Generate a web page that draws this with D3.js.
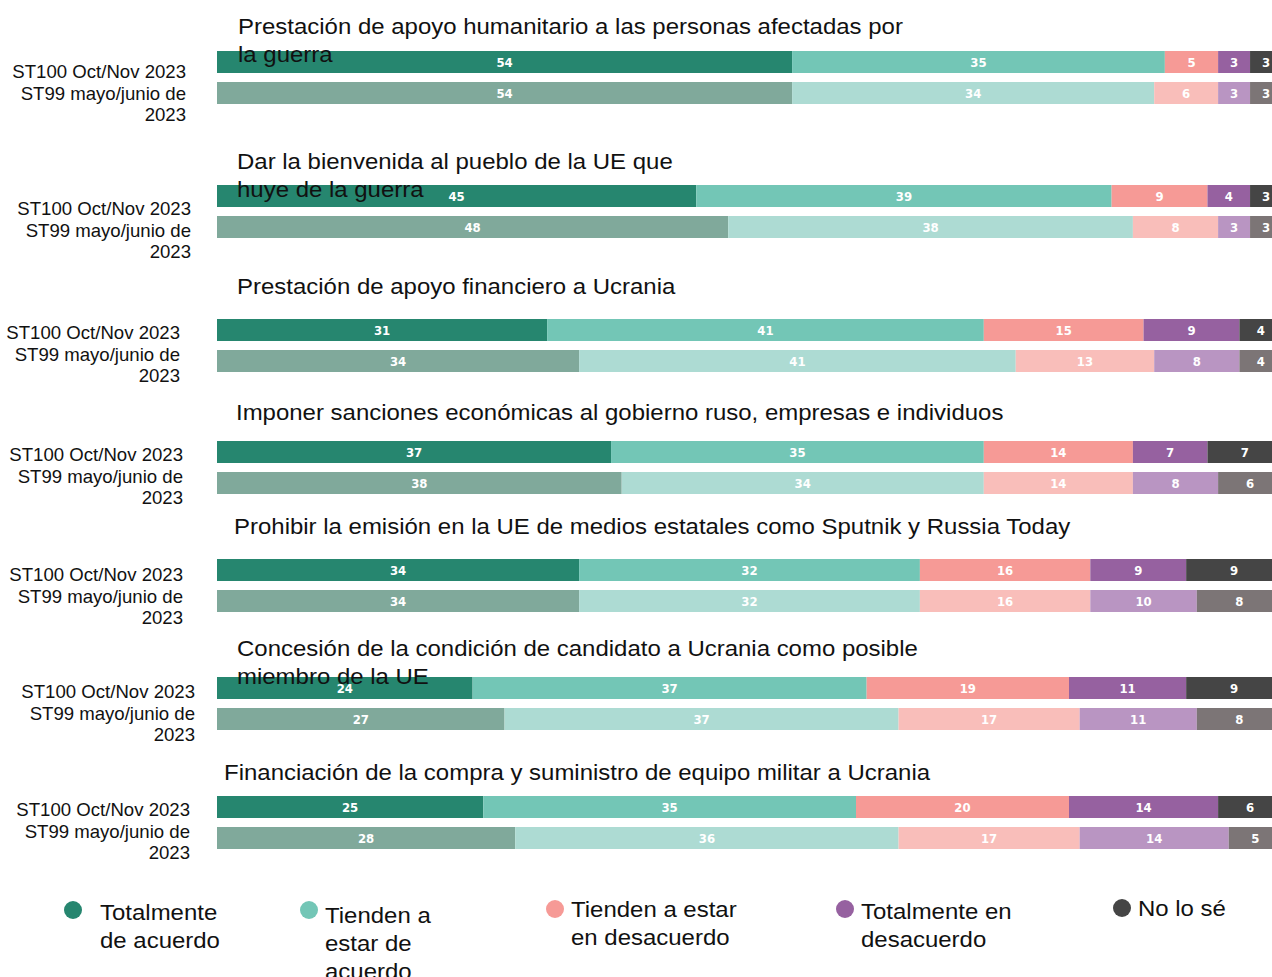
<!DOCTYPE html>
<html>
<head>
<meta charset="utf-8">
<script src="https://cdn.jsdelivr.net/npm/d3@7"></script>
<style>
  body { margin: 0; background: #fff; }
  svg { display: block; }
</style>
</head>
<body>
<div id="chart"></div>
<script>
// ---- data ----
var questions = [
  ["Prestación de apoyo humanitario a las personas afectadas por", "la guerra"],
  ["Dar la bienvenida al pueblo de la UE que", "huye de la guerra"],
  ["Prestación de apoyo financiero a Ucrania"],
  ["Imponer sanciones económicas al gobierno ruso, empresas e individuos"],
  ["Prohibir la emisión en la UE de medios estatales como Sputnik y Russia Today"],
  ["Concesión de la condición de candidato a Ucrania como posible", "miembro de la UE"],
  ["Financiación de la compra y suministro de equipo militar a Ucrania"]
];
var waveLabels = ["ST100 Oct/Nov 2023", "ST99 mayo/junio de", "2023"];
var categories = ["Totalmente de acuerdo", "Tienden a estar de acuerdo",
  "Tienden a estar en desacuerdo", "Totalmente en desacuerdo", "No lo sé"];
var legendLines = [
  ["Totalmente", "de acuerdo"],
  ["Tienden a", "estar de", "acuerdo"],
  ["Tienden a estar", "en desacuerdo"],
  ["Totalmente en", "desacuerdo"],
  ["No lo sé"]
];
// ST100 Oct/Nov 2023
var st100 = [
  [54, 35, 5, 3, 3],
  [45, 39, 9, 4, 3],
  [31, 41, 15, 9, 4],
  [37, 35, 14, 7, 7],
  [34, 32, 16, 9, 9],
  [24, 37, 19, 11, 9],
  [25, 35, 20, 14, 6]
];
// ST99 mayo/junio 2023
var st99 = [
  [54, 34, 6, 3, 3],
  [48, 38, 8, 3, 3],
  [34, 41, 13, 8, 4],
  [38, 34, 14, 8, 6],
  [34, 32, 16, 10, 8],
  [27, 37, 17, 11, 8],
  [28, 36, 17, 14, 5]
];

// ---- layout ----
var W = 1272, H = 977;
var barTop   = [51, 185, 319, 441, 559, 677, 796];
var titleY   = [34, 169, 294, 420, 534, 656, 780];
var titleX   = [238, 237, 237, 236, 234, 237, 224];
var labelY   = [78, 215, 339, 461, 581, 698, 816];
var labelX   = [186, 191, 180, 183, 183, 195, 190];
var barH = 22, barGap = 9;
var legendX  = [73, 309, 555, 845, 1122];
var legendY  = [910, 910, 909, 909, 908];
var legendTY = [920, 923, 917, 919, 916];
var stretch = 1.09;   // the original text is a bit wider than Arial

var colNow  = ["#26866f", "#73c6b6", "#f69a96", "#9661a0", "#454545"];
var colPrev = ["#80a99b", "#addbd3", "#f9beba", "#b995c2", "#7c7576"];

var svg = d3.select("#chart").append("svg")
  .attr("width", W).attr("height", H);

// the bars run a little past the right edge in the original
var x = d3.scaleLinear().domain([0, 100]).range([217, 1282]);

var stack = d3.stack().keys(d3.range(categories.length));

questions.forEach(function(q, gi) {
  var g = svg.append("g");
  var rows = [
    {vals: st100[gi], colors: colNow, y: barTop[gi]},
    {vals: st99[gi], colors: colPrev, y: barTop[gi] + barH + barGap}
  ];

  rows.forEach(function(r) {
    var series = stack([r.vals]);
    var seg = g.append("g").selectAll("g")
      .data(series)
      .enter().append("g");

    seg.append("rect")
      .attr("x", function(d) { return x(d[0][0]); })
      .attr("y", r.y)
      .attr("width", function(d) { return x(d[0][1]) - x(d[0][0]); })
      .attr("height", barH)
      .attr("fill", function(d, i) { return r.colors[i]; });

    seg.append("text")
      .attr("x", function(d) { return (x(d[0][0]) + x(d[0][1])) / 2; })
      .attr("y", r.y + barH / 2 + 5)
      .attr("text-anchor", "middle")
      .style("font-family", "'DejaVu Sans Condensed', 'DejaVu Sans', sans-serif")
      .style("font-weight", "bold")
      .style("font-size", "13px")
      .style("fill", "#fff")
      .text(function(d, i) { return r.vals[i]; });
  });

  // wave labels
  g.append("text")
    .attr("text-anchor", "end")
    .style("font-family", "'Liberation Sans', Arial, sans-serif")
    .style("font-size", "18.6px")
    .style("fill", "#111")
    .selectAll("tspan")
    .data(waveLabels)
    .enter().append("tspan")
      .attr("x", labelX[gi])
      .attr("y", function(d, i) { return labelY[gi] + i * 21.5; })
      .text(function(d) { return d; });

  // question title (drawn after bars, overlaps like the original)
  g.append("text")
    .attr("transform", "translate(" + titleX[gi] + ",0) scale(" + stretch + ",1)")
    .style("font-family", "'Liberation Sans', Arial, sans-serif")
    .style("font-size", "22px")
    .style("fill", "#111")
    .selectAll("tspan")
    .data(q)
    .enter().append("tspan")
      .attr("x", 0)
      .attr("y", function(d, i) { return titleY[gi] + i * 28; })
      .text(function(d) { return d; });
});

/****** LEGEND ******/
var leg = svg.append("g").selectAll("g")
  .data(categories)
  .enter().append("g");

leg.append("circle")
  .attr("cx", function(d, i) { return legendX[i]; })
  .attr("cy", function(d, i) { return legendY[i]; })
  .attr("r", 9)
  .attr("fill", function(d, i) { return colNow[i]; });

leg.append("text")
  .attr("transform", function(d, i) {
    return "translate(" + (legendX[i] + (i === 0 ? 27 : 16)) + ",0) scale(" + stretch + ",1)";
  })
  .style("font-family", "'Liberation Sans', Arial, sans-serif")
  .style("font-size", "22px")
  .style("fill", "#111")
  .each(function(d, i) {
    d3.select(this).selectAll("tspan")
      .data(legendLines[i])
      .enter().append("tspan")
        .attr("x", 0)
        .attr("y", function(t, j) { return legendTY[i] + j * 28; })
        .text(function(t) { return t; });
  });
</script>
</body>
</html>
